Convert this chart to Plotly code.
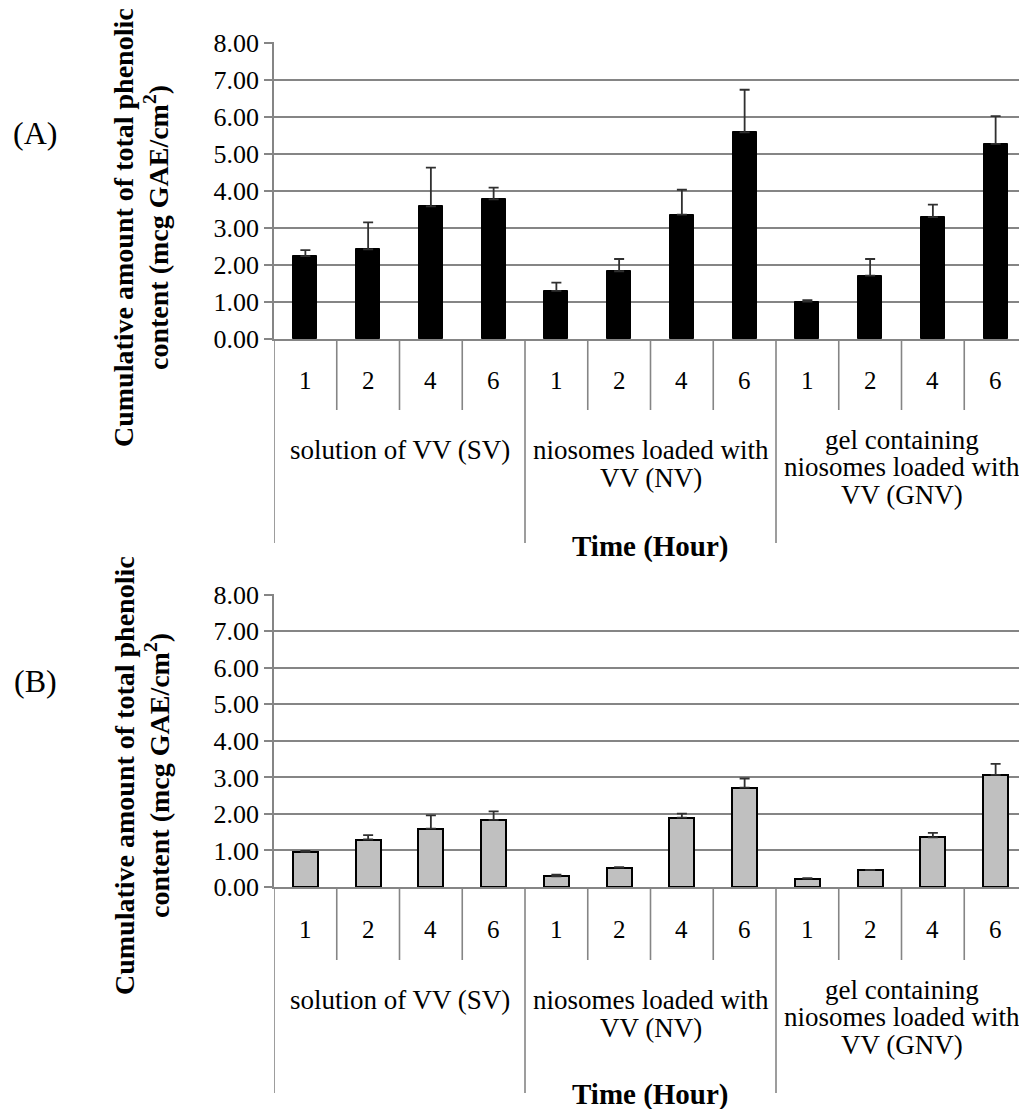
import plotly.graph_objects as go

# ---------------- data ----------------
group_lines = [
    ["solution of VV (SV)"],
    ["niosomes loaded with", "VV (NV)"],
    ["gel containing", "niosomes loaded with", "VV (GNV)"],
]
hours = ["1", "2", "4", "6"]
y_ticks = [0, 1, 2, 3, 4, 5, 6, 7, 8]

a_values = [2.24, 2.42, 3.58, 3.77, 1.30, 1.83, 3.36, 5.58, 1.01, 1.71, 3.29, 5.27]
a_errors = [0.16, 0.73, 1.05, 0.32, 0.22, 0.33, 0.67, 1.15, 0.04, 0.45, 0.34, 0.75]
b_values = [0.96, 1.30, 1.60, 1.84, 0.29, 0.53, 1.90, 2.72, 0.23, 0.46, 1.36, 3.07]
b_errors = [0.03, 0.12, 0.36, 0.23, 0.05, 0.01, 0.11, 0.25, 0.01, 0.01, 0.12, 0.30]

# ---------------- layout geometry ----------------
OFF = 8                      # page body margin
W, H = 1027 - OFF, 1109 - OFF
ML, MT = 274 - OFF, 42 - OFF
MR = 0
ZERO_B = 887 - OFF
MB = H - ZERO_B
PW, PH = W - ML - MR, H - MT - MB

def px2x(px):
    """reference-screen pixel x -> paper x"""
    return (px - OFF - ML) / PW

def py2y(py):
    """reference-screen pixel y -> paper y"""
    return (H - MB - (py - OFF)) / PH

n_cat = len(group_lines) * len(hours)
idx = list(range(n_cat))
FONT = "Liberation Serif"
GRID = "#858585"

fig = go.Figure()

fig.add_trace(go.Bar(
    x=idx, y=a_values, width=0.38,
    marker=dict(color="black", line=dict(color="black", width=1)),
    error_y=dict(type="data", array=a_errors, arrayminus=[0] * n_cat, symmetric=False,
                 color="#303030", thickness=1.8, width=5),
    xaxis="x", yaxis="y", showlegend=False,
))
fig.add_trace(go.Bar(
    x=idx, y=b_values, width=0.40,
    marker=dict(color="#c0c0c0", line=dict(color="black", width=2)),
    error_y=dict(type="data", array=b_errors, arrayminus=[0] * n_cat, symmetric=False,
                 color="#303030", thickness=1.8, width=5),
    xaxis="x2", yaxis="y2", showlegend=False,
))

dom_a = [py2y(339), 1.0]
dom_b = [0.0, py2y(594)]

yax = dict(range=[0, 8.02], tickvals=y_ticks, tickformat=".2f",
           showgrid=True, gridcolor=GRID, gridwidth=1.6,
           showline=True, linecolor=GRID, linewidth=1.6,
           ticks="outside", ticklen=8, tickcolor=GRID, tickwidth=1.6,
           tickfont=dict(family=FONT, size=26, color="black"), zeroline=False,
           fixedrange=True)
xax = dict(range=[-0.5, n_cat - 0.5], showticklabels=False, showgrid=False,
           zeroline=False, showline=True, linecolor=GRID, linewidth=1.6, ticks="")

fig.update_layout(
    width=W, height=H,
    margin=dict(l=ML, r=MR, t=MT, b=MB, pad=0),
    paper_bgcolor="white", plot_bgcolor="white",
    bargap=0,
    xaxis=dict(**xax, domain=[0, 1], anchor="y"),
    yaxis=dict(**yax, domain=dom_a, anchor="x"),
    xaxis2=dict(**xax, domain=[0, 1], anchor="y2"),
    yaxis2=dict(**yax, domain=dom_b, anchor="x2"),
)

shapes = []
annotations = []
panels = [("x", 339, "(A)", 0), ("x2", 887, "(B)", 2)]
group_offsets = [[111], [111, 139], [101, 128, 156]]
for xr, zero_px, label, extra in panels:
    # separators between hours
    for g in range(len(group_lines)):
        for h in range(1, len(hours)):
            xb = g * len(hours) + h - 0.5
            shapes.append(dict(type="line", xref=xr, yref="paper", x0=xb, x1=xb,
                               y0=py2y(zero_px), y1=py2y(zero_px + 71 + extra),
                               line=dict(color=GRID, width=1.6)))
    # separators between groups
    for g in range(len(group_lines) + 1):
        xb = g * len(hours) - 0.5
        shapes.append(dict(type="line", xref=xr, yref="paper", x0=xb, x1=xb,
                           y0=py2y(zero_px), y1=py2y(zero_px + 204 + extra),
                           line=dict(color=GRID, width=1.6)))
    # hour labels
    for i in idx:
        annotations.append(dict(text=hours[i % len(hours)], xref=xr, yref="paper", x=i,
                                y=py2y(zero_px + 41 + extra), showarrow=False,
                                yanchor="middle",
                                font=dict(family=FONT, size=25, color="black")))
    # group labels
    for g, lines in enumerate(group_lines):
        xc = g * len(hours) + (len(hours) - 1) / 2
        for ln, off in zip(lines, group_offsets[g]):
            annotations.append(dict(text=ln, xref=xr, yref="paper", x=xc,
                                    y=py2y(zero_px + off + extra), showarrow=False,
                                    yanchor="middle",
                                    font=dict(family=FONT, size=27, color="black")))
    # x axis title
    annotations.append(dict(text="<b>Time (Hour)</b>", xref="paper", yref="paper",
                            x=0.5, y=py2y(zero_px + 207), showarrow=False,
                            yanchor="middle", font=dict(family=FONT, size=29, color="black")))
    # y axis title (two lines)
    yc = py2y(zero_px - 111)
    annotations.append(dict(text="<b>Cumulative amount of total phenolic</b>", xref="paper",
                            yref="paper", x=px2x(124), y=yc, textangle=-90, showarrow=False,
                            xanchor="center", yanchor="middle",
                            font=dict(family=FONT, size=28, color="black")))
    annotations.append(dict(text="<b>content (mcg GAE/cm<sup>2</sup>)</b>", xref="paper",
                            yref="paper", x=px2x(157), y=yc, textangle=-90, showarrow=False,
                            xanchor="center", yanchor="middle",
                            font=dict(family=FONT, size=28, color="black")))
    # panel label
    annotations.append(dict(text=label, xref="paper", yref="paper",
                            x=px2x(35), y=py2y(zero_px - 206), showarrow=False,
                            xanchor="center", yanchor="middle",
                            font=dict(family=FONT, size=32, color="black")))

fig.update_layout(shapes=shapes, annotations=annotations)
fig.write_html("out.html")
